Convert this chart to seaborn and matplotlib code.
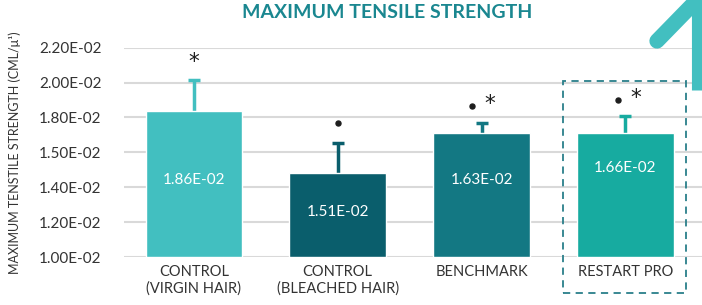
import matplotlib
matplotlib.use("Agg")
import matplotlib.pyplot as plt
import seaborn as sns
import pandas as pd
from matplotlib.patches import Rectangle
from matplotlib.lines import Line2D

# data (axis units of 1E-02)
groups = ["CONTROL\n(VIRGIN HAIR)", "CONTROL\n(BLEACHED HAIR)", "BENCHMARK", "RESTART PRO"]
heights = [1.837, 1.481, 1.711, 1.711]
err_top = [2.014, 1.653, 1.766, 1.808]
value_labels = ["1.86E-02", "1.51E-02", "1.63E-02", "1.66E-02"]
has_dot = [False, True, True, True]
has_star = [True, False, True, True]
ytick_vals = [1.0, 1.2, 1.4, 1.6, 1.8, 2.0, 2.2]
ytick_labels = ["1.00E-02", "1.20E-02", "1.40E-02", "1.50E-02", "1.80E-02", "2.00E-02", "2.20E-02"]
colors = ["#42BFC0", "#0A5E6C", "#137883", "#17ABA0"]

sns.set_theme(style="white")
plt.rcParams["font.family"] = ["Lato", "DejaVu Sans"]

df = pd.DataFrame({"group": groups, "value": heights})

fig = plt.figure(figsize=(7.02, 3.05), dpi=100)
ax = fig.add_axes([0.1766, 0.157, 0.823, 0.687])

sns.barplot(data=df, x="group", y="value", hue="group", palette=colors,
            width=0.67, saturation=1, legend=False, ax=ax)
for p in ax.patches:
    p.set_y(1.0)
    p.set_height(p.get_height() - 1.0)
    p.set_zorder(3)

# upper error bars only
for i, (h, e, c) in enumerate(zip(heights, err_top, colors)):
    ax.plot([i, i], [h, e], color=c, linewidth=2.5, zorder=2, solid_capstyle="butt")
    ax.plot([i - 0.042, i + 0.042], [e, e], color=c, linewidth=2.5, zorder=2,
            solid_capstyle="butt")

label_y = [1.441, 1.258, 1.441, 1.51]
for i, (ly, txt) in enumerate(zip(label_y, value_labels)):
    ax.text(i, ly, txt, color="white", ha="center", va="center", fontsize=11, zorder=4)

# significance marks
dot_y = [0, 1.768, 1.865, 1.90]
star_y = [2.12, 0, 1.875, 1.91]
dot_dx = [0, 0, -0.065, -0.05]
star_dx = [0, 0, 0.06, 0.07]
for i in range(len(groups)):
    if has_dot[i]:
        ax.plot(i + dot_dx[i], dot_y[i], "o", color="#1E1E1E", markersize=3.6, zorder=4,
                clip_on=False)
    if has_star[i]:
        ax.text(i + star_dx[i], star_y[i], "*", color="#1E1E1E", ha="center", va="center",
                fontsize=15.5, family="DejaVu Sans", zorder=4, clip_on=False)

ax.set_xlim(-0.485, 3.53)
ax.set_ylim(1.0, 2.2)
ax.set_yticks(ytick_vals)
ax.set_yticklabels(ytick_labels, fontsize=11, color="#333333")
ax.tick_params(axis="x", labelsize=10.5, labelcolor="#333333", length=0, pad=6)
ax.tick_params(axis="y", length=0, pad=16)
ax.set_xlabel("")
ax.set_ylabel("MAXIMUM TENSTILE STRENGTH (CML/\u03bc\u00b9)", fontsize=9, color="#333333", labelpad=13)
ax.yaxis.grid(True, color="#D9D9D9", linewidth=1.5, zorder=0)
ax.set_axisbelow(True)
for s in ax.spines.values():
    s.set_visible(False)

fig.text(0.552, 0.958, "MAXIMUM TENSILE STRENGTH", ha="center", va="center",
         fontsize=14, fontweight="bold", color="#1A8790")

# dashed box around Restart Pro
fig.add_artist(Rectangle((563 / 702, 1 - 293 / 305), 123 / 702, 212 / 305,
                         transform=fig.transFigure, fill=False, edgecolor="#2A7F8A",
                         linestyle=(0, (4, 3)), linewidth=1.3))

# decorative arrow corner
fig.add_artist(Line2D([657 / 702, 697 / 702], [1 - 41 / 305, 1.0], transform=fig.transFigure,
                      color="#42BFC0", linewidth=11, solid_capstyle="round"))
fig.add_artist(Line2D([697 / 702, 697 / 702], [1 - 90 / 305, 1.02], transform=fig.transFigure,
                      color="#42BFC0", linewidth=8, solid_capstyle="butt"))

fig.savefig("out.png", dpi=100)
